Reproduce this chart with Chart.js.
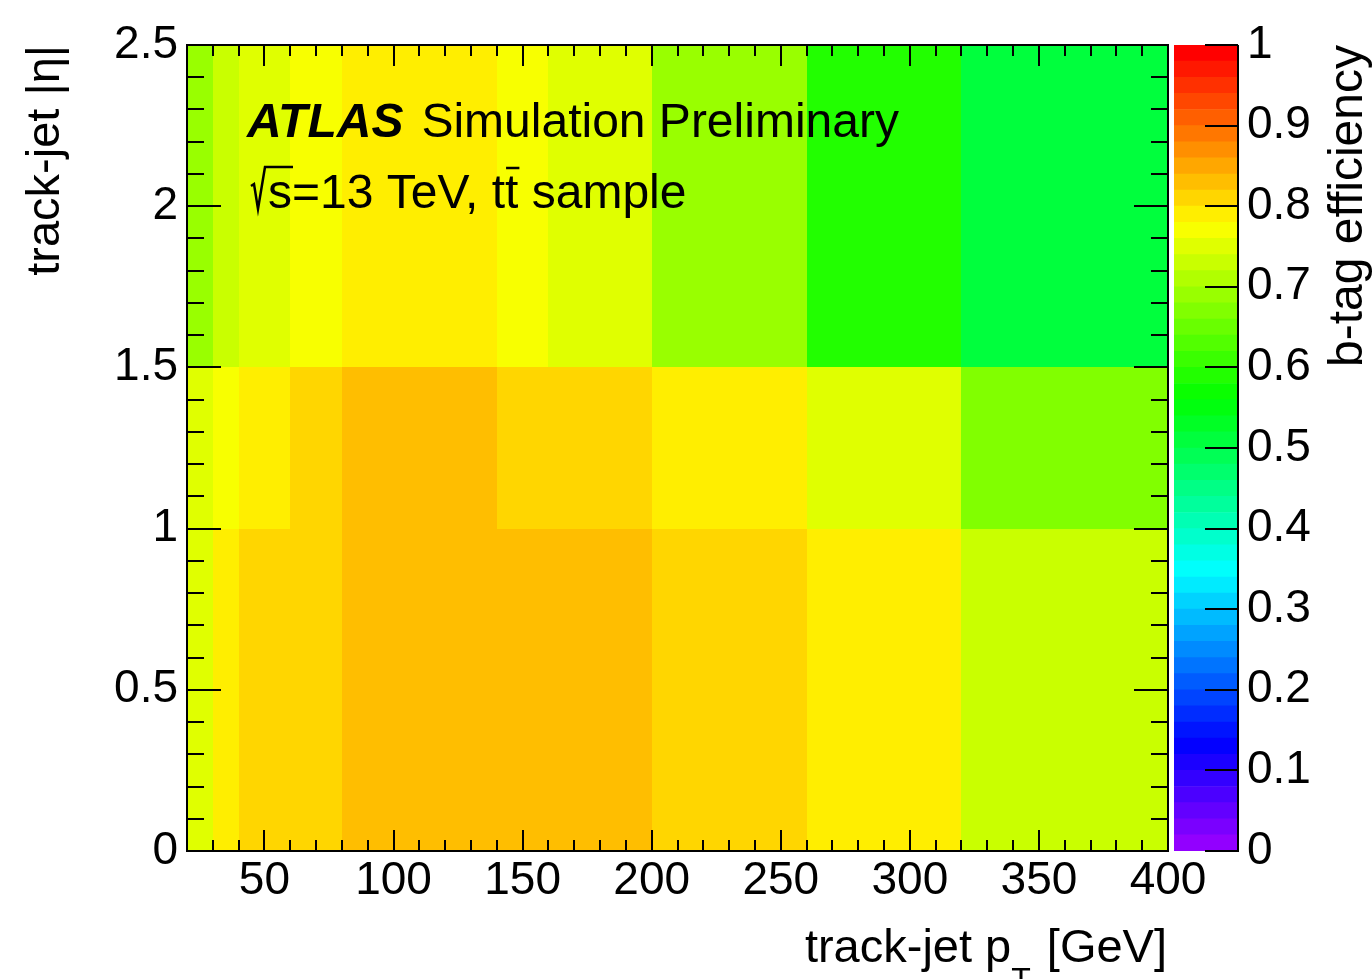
<!DOCTYPE html>
<html>
<head>
<meta charset="utf-8">
<script src="https://cdn.jsdelivr.net/npm/chart.js@4.4.1/dist/chart.umd.min.js"></script>
<style>
  html, body { margin: 0; padding: 0; background: #fff; }
  #wrap { position: relative; width: 1372px; height: 979px; overflow: hidden; }
  #main { position: absolute; left: 0; top: 0; }
  #zbar { position: absolute; left: 1160px; top: 0; }
</style>
</head>
<body>
<div id="wrap">
  <canvas id="main" width="1372" height="979" style="width:1372px;height:979px"></canvas>
  <canvas id="zbar" width="212" height="979" style="width:212px;height:979px"></canvas>
</div>
<script>
const FONT = '"Liberation Sans", Arial, Helvetica, sans-serif';

// bin edges
const ptEdges = [20, 30, 40, 60, 80, 140, 160, 200, 260, 320, 400];
const etaEdges = [0, 1, 1.5, 2.5];

// b-tag efficiency, one array per |eta| row, one value per pT bin
const effEta0to1 = [0.75, 0.79, 0.81, 0.81, 0.83, 0.83, 0.83, 0.81, 0.79, 0.73];
const effEta1to15 = [0.75, 0.77, 0.79, 0.81, 0.83, 0.81, 0.81, 0.79, 0.75, 0.67];
const effEta15to25 = [0.69, 0.73, 0.75, 0.77, 0.79, 0.77, 0.75, 0.69, 0.59, 0.51];

// labelled ticks
const ptTicks = [50, 100, 150, 200, 250, 300, 350, 400];
const etaTicks = [0, 0.5, 1, 1.5, 2, 2.5];

const N_LEVELS = 50; // palette contours on the z axis

// ROOT "pretty" rainbow palette: hue 280 -> 0 in 50 steps
function rootRainbow(v) {
  const k = Math.min(N_LEVELS - 1, Math.max(0, Math.floor(v * N_LEVELS + 1e-9)));
  const hue = 280 - (k + 1) * (280 / N_LEVELS);
  return `hsl(${hue}, 100%, 50%)`;
}

const effRows = [effEta0to1, effEta1to15, effEta15to25];
const cells = [];
effRows.forEach((row, j) => {
  row.forEach((v, i) => {
    cells.push({
      x: (ptEdges[i] + ptEdges[i + 1]) / 2,
      y: (etaEdges[j] + etaEdges[j + 1]) / 2,
      x0: ptEdges[i], x1: ptEdges[i + 1],
      y0: etaEdges[j], y1: etaEdges[j + 1],
      v,
    });
  });
});

Chart.defaults.font.family = FONT;
Chart.defaults.color = "#000";

const round1 = v => Math.round(v * 10) / 10;

const heatCells = {
  id: "heatCells",
  beforeDatasetsDraw(chart) {
    const { ctx, scales: { x, y } } = chart;
    ctx.save();
    chart.data.datasets[0].data.forEach(c => {
      const l = Math.round(x.getPixelForValue(c.x0));
      const r = Math.round(x.getPixelForValue(c.x1));
      const t = Math.round(y.getPixelForValue(c.y1));
      const b = Math.round(y.getPixelForValue(c.y0));
      ctx.fillStyle = rootRainbow(c.v);
      ctx.fillRect(l, t, r - l, b - t);
    });
    ctx.restore();
  },
};

const frameAndText = {
  id: "frameAndText",
  afterDraw(chart) {
    const { ctx, chartArea: a, scales: { x, y } } = chart;
    ctx.save();
    ctx.strokeStyle = "#000";
    ctx.lineWidth = 2;
    ctx.strokeRect(a.left, a.top, a.right - a.left, a.bottom - a.top);

    ctx.beginPath();
    x.ticks.forEach(t => {
      const px = Math.round(x.getPixelForValue(t.value));
      const len = ptTicks.includes(t.value) ? 21 : 11;
      ctx.moveTo(px, a.bottom); ctx.lineTo(px, a.bottom - len);
      ctx.moveTo(px, a.top); ctx.lineTo(px, a.top + len);
    });
    y.ticks.forEach(t => {
      const py = Math.round(y.getPixelForValue(t.value));
      const len = etaTicks.includes(round1(t.value)) ? 34 : 17;
      ctx.moveTo(a.left, py); ctx.lineTo(a.left + len, py);
      ctx.moveTo(a.right, py); ctx.lineTo(a.right - len, py);
    });
    ctx.stroke();

    // ATLAS label
    ctx.fillStyle = "#000";
    ctx.textBaseline = "alphabetic";
    ctx.textAlign = "left";
    ctx.font = `italic bold 48px ${FONT}`;
    ctx.fillText("ATLAS", 247, 137);
    const wAtlas = ctx.measureText("ATLAS").width;
    ctx.font = `48px ${FONT}`;
    ctx.fillText("Simulation Preliminary", 247 + wAtlas + 18, 137);

    // sqrt(s)=13 TeV, ttbar sample
    ctx.lineWidth = 2.5;
    ctx.lineJoin = "miter";
    ctx.beginPath();
    ctx.moveTo(251, 186);
    ctx.lineTo(254, 184);
    ctx.lineTo(258, 209);
    ctx.lineTo(265, 167);
    ctx.lineTo(293, 167);
    ctx.stroke();
    ctx.fillText("s=13 TeV, tt sample", 268, 208);
    const tx = 268 + ctx.measureText("s=13 TeV, t").width;
    const tw = ctx.measureText("t").width;
    ctx.beginPath();
    ctx.moveTo(tx + 1, 168);
    ctx.lineTo(tx + tw + 1, 168);
    ctx.stroke();

    // x axis title with subscript
    const part1 = "track-jet p", part2 = " [GeV]";
    ctx.font = `47px ${FONT}`;
    const w1 = ctx.measureText(part1).width;
    const w2 = ctx.measureText(part2).width;
    ctx.font = `32px ${FONT}`;
    const wT = ctx.measureText("T").width;
    const x0 = a.right - 1 - (w1 + wT + w2);
    ctx.font = `47px ${FONT}`;
    ctx.fillText(part1, x0 - 3, 962);
    ctx.font = `32px ${FONT}`;
    ctx.fillText("T", x0 - 3 + w1, 990);
    ctx.font = `47px ${FONT}`;
    ctx.fillText(part2, x0 + w1 + wT, 962);
    ctx.restore();
  },
};

new Chart(document.getElementById("main"), {
  type: "scatter",
  data: {
    datasets: [{ data: cells, pointRadius: 0, pointHoverRadius: 0 }],
  },
  options: {
    responsive: false,
    animation: false,
    events: [],
    layout: { padding: { left: 0, top: 45, right: 204, bottom: 0 } },
    plugins: { legend: { display: false }, tooltip: { enabled: false } },
    scales: {
      x: {
        type: "linear", min: 20, max: 400,
        grid: { display: false, drawTicks: false },
        border: { display: false },
        ticks: {
          stepSize: 10, autoSkip: false, maxRotation: 0, padding: 3,
          font: { size: 46 }, color: "#000",
          callback: v => (ptTicks.includes(v) ? String(v) : ""),
        },
        afterFit: s => { s.height = 128; },
      },
      y: {
        type: "linear", min: 0, max: 2.5,
        grid: { display: false, drawTicks: false },
        border: { display: false },
        ticks: {
          stepSize: 0.1, autoSkip: false, padding: 9,
          font: { size: 46 }, color: "#000",
          callback: v => (etaTicks.includes(round1(v)) ? String(round1(v)) : ""),
        },
        title: {
          display: true, text: "track-jet |η|", align: "end", color: "#000",
          font: { size: 47 }, padding: { top: 18, bottom: 0 },
        },
        afterFit: s => { s.width = 187; },
      },
    },
  },
  plugins: [heatCells, frameAndText],
});

// colour bar
const zAxisDeco = {
  id: "zAxisDeco",
  afterDraw(chart) {
    const { ctx, chartArea: a, scales: { y } } = chart;
    ctx.save();
    ctx.strokeStyle = "#000";
    ctx.lineWidth = 2;
    ctx.beginPath();
    ctx.moveTo(a.right, a.top); ctx.lineTo(a.right, a.bottom + 1);
    y.ticks.forEach(t => {
      const py = Math.round(y.getPixelForValue(t.value));
      ctx.moveTo(a.right, py); ctx.lineTo(a.right - 33, py);
    });
    ctx.stroke();
    ctx.translate(202, a.top);
    ctx.rotate(-Math.PI / 2);
    ctx.fillStyle = "#000";
    ctx.font = `48px ${FONT}`;
    ctx.textAlign = "right";
    ctx.textBaseline = "alphabetic";
    ctx.fillText("b-tag efficiency", 0, 0);
    ctx.restore();
  },
};

const levels = Array.from({ length: N_LEVELS }, (_, k) => k);
new Chart(document.getElementById("zbar"), {
  type: "bar",
  data: {
    labels: [""],
    datasets: levels.map(k => ({
      data: [1 / N_LEVELS],
      backgroundColor: rootRainbow((k + 0.5) / N_LEVELS),
      borderWidth: 0,
      barPercentage: 1,
      categoryPercentage: 1,
    })),
  },
  options: {
    responsive: false,
    animation: false,
    events: [],
    layout: { padding: { left: 14, top: 45, right: 0, bottom: 128 } },
    plugins: { legend: { display: false }, tooltip: { enabled: false } },
    scales: {
      x: { display: false, stacked: true },
      y: {
        position: "right", stacked: true, min: 0, max: 1,
        grid: { display: false, drawTicks: false },
        border: { display: false },
        ticks: {
          stepSize: 0.1, padding: 9, font: { size: 46 }, color: "#000",
          callback: v => String(round1(v)),
        },
        afterFit: s => { s.width = 134; },
      },
    },
  },
  plugins: [zAxisDeco],
});
</script>
</body>
</html>
